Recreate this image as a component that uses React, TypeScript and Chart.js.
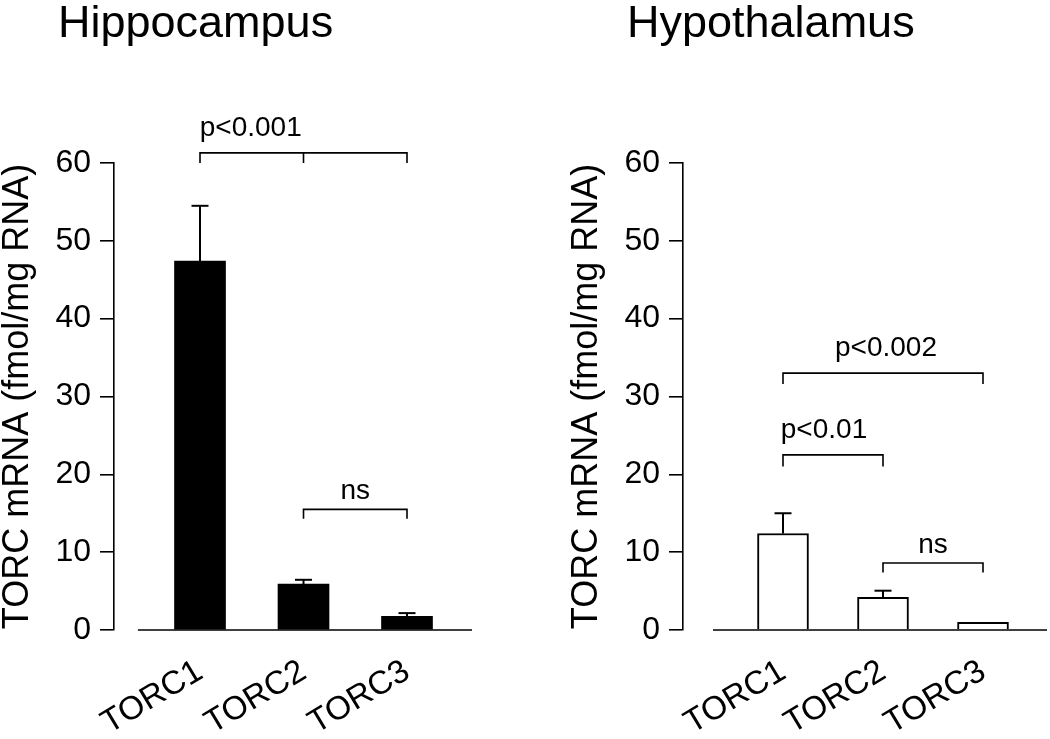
import React, { useEffect, useRef } from "react";
import { Chart, registerables } from "chart.js";

Chart.register(...registerables);

// ---- data ----
const CATEGORIES = ["TORC1", "TORC2", "TORC3"];
const Y_TICKS = [0, 10, 20, 30, 40, 50, 60];
const Y_TITLE = "TORC mRNA (fmol/mg RNA)";

const HIPPO_TITLE = "Hippocampus";
const HIPPO_MEAN = [47.4, 5.9, 1.75];
const HIPPO_SEM = [7.1, 0.55, 0.42];
const HIPPO_BRACKETS = [
  { from: 1, to: 3, mids: [2], level: 61.3, tip: 60.0, label: "p<0.001", labelAt: 1.49 },
  { from: 2, to: 3, mids: [], level: 15.5, tip: 14.3, label: "ns", labelAt: 2.5 },
];

const HYPO_TITLE = "Hypothalamus";
const HYPO_MEAN = [12.4, 4.2, 1.0];
const HYPO_SEM = [2.6, 0.85, 0];
const HYPO_BRACKETS = [
  { from: 1, to: 3, mids: [], level: 33.0, tip: 31.6, label: "p<0.002", labelAt: 2.03 },
  { from: 1, to: 2, mids: [], level: 22.5, tip: 21.0, label: "p<0.01", labelAt: 1.41 },
  { from: 2, to: 3, mids: [], level: 8.6, tip: 7.4, label: "ns", labelAt: 2.5 },
];

// ---- styles ----
const FONT = '"Liberation Sans", Arial, Helvetica, sans-serif';
const INK = "#000";
const CANVAS_H = 739;

type PanelCfg = {
  title: string;
  mean: number[];
  sem: number[];
  brackets: typeof HIPPO_BRACKETS;
  fill: string;
  borderWidth: number;
  barThickness: number;
  left: number;
  width: number;
  padLeft: number;
  padRight: number;
  yWidth: number;
  xMin: number;
  xMax: number;
  axisStart: number;
  labelShift: number[];
};

const PANELS: PanelCfg[] = [
  {
    title: HIPPO_TITLE, mean: HIPPO_MEAN, sem: HIPPO_SEM, brackets: HIPPO_BRACKETS,
    fill: "#000", borderWidth: 0, barThickness: 51,
    left: 0, width: 560, padLeft: 0, padRight: 88, yWidth: 114,
    xMin: 0.169, xMax: 3.628, axisStart: 0.4, labelShift: [16, 2, 2],
  },
  {
    title: HYPO_TITLE, mean: HYPO_MEAN, sem: HYPO_SEM, brackets: HYPO_BRACKETS,
    fill: "#fff", borderWidth: 2, barThickness: 51,
    left: 560, width: 490, padLeft: 9, padRight: 3, yWidth: 114,
    xMin: 0.0, xMax: 3.64, axisStart: 0.3, labelShift: [1, 1, -2],
  },
];

function overlay(cfg: PanelCfg) {
  return {
    id: "overlay",
    afterDatasetsDraw(chart: any) {
      const { ctx, chartArea } = chart;
      const x = chart.scales.x;
      const y = chart.scales.y;
      const line = (x1: number, y1: number, x2: number, y2: number) => {
        ctx.beginPath();
        ctx.moveTo(x1, y1);
        ctx.lineTo(x2, y2);
        ctx.stroke();
      };
      ctx.save();
      ctx.strokeStyle = INK;
      ctx.fillStyle = INK;
      ctx.lineCap = "butt";

      // detached x axis line
      ctx.lineWidth = 1.6;
      const y0 = y.getPixelForValue(0);
      line(x.getPixelForValue(cfg.axisStart), y0, chartArea.right, y0);

      // error bars (upper only)
      ctx.lineWidth = 2;
      cfg.mean.forEach((m, i) => {
        const e = cfg.sem[i];
        if (!e) return;
        const px = x.getPixelForValue(i + 1);
        const yTop = y.getPixelForValue(m + e);
        line(px, y.getPixelForValue(m), px, yTop);
        line(px - 8.5, yTop, px + 8.5, yTop);
      });

      // significance brackets
      ctx.lineWidth = 1.6;
      ctx.font = `28px ${FONT}`;
      ctx.textAlign = "center";
      ctx.textBaseline = "alphabetic";
      cfg.brackets.forEach((b) => {
        const yl = y.getPixelForValue(b.level);
        const yt = y.getPixelForValue(b.tip);
        const xa = x.getPixelForValue(b.from);
        const xb = x.getPixelForValue(b.to);
        ctx.beginPath();
        ctx.moveTo(xa, yt);
        ctx.lineTo(xa, yl);
        ctx.lineTo(xb, yl);
        ctx.lineTo(xb, yt);
        ctx.stroke();
        b.mids.forEach((mv) => {
          const xm = x.getPixelForValue(mv);
          line(xm, yl, xm, yt);
        });
        const gap = b.label.startsWith("p") ? 17 : 10;
        ctx.fillText(b.label, x.getPixelForValue(b.labelAt), yl - gap);
      });

      // panel title
      ctx.font = `45px ${FONT}`;
      ctx.textAlign = "left";
      ctx.fillText(cfg.title, chartArea.left - 56, 37);
      ctx.restore();
    },
  };
}

function Panel({ cfg }: { cfg: PanelCfg }) {
  const ref = useRef<HTMLCanvasElement>(null);
  useEffect(() => {
    const chart = new Chart(ref.current as HTMLCanvasElement, {
      type: "bar",
      data: {
        datasets: [
          {
            data: cfg.mean.map((v, i) => ({ x: i + 1, y: v })),
            backgroundColor: cfg.fill,
            borderColor: INK,
            borderWidth: cfg.borderWidth,
            barThickness: cfg.barThickness,
          } as any,
        ],
      },
      options: {
        responsive: false,
        animation: false,
        devicePixelRatio: 1,
        layout: { padding: { top: 163, right: cfg.padRight, bottom: 0, left: cfg.padLeft } },
        plugins: {
          legend: { display: false },
          tooltip: { enabled: false },
          title: { display: false },
        },
        scales: {
          x: {
            type: "linear",
            offset: false,
            min: cfg.xMin,
            max: cfg.xMax,
            grid: { display: false, drawTicks: false, offset: false },
            border: { display: false },
            afterBuildTicks: (s: any) => {
              s.ticks = CATEGORIES.map((_, i) => ({ value: i + 1 }));
            },
            afterFit: (s: any) => {
              s.height = CANVAS_H - 630;
              s.paddingLeft = 0;
              s.paddingRight = 0;
            },
            ticks: {
              autoSkip: false,
              minRotation: 31,
              maxRotation: 31,
              padding: 22,
              labelOffset: (c: any) => cfg.labelShift[c.index] ?? 0,
              color: INK,
              font: { family: FONT, size: 33 },
              callback: (v: any) => CATEGORIES[Math.round(v) - 1] ?? "",
            },
          },
          y: {
            min: 0,
            max: 60,
            afterBuildTicks: (s: any) => {
              s.ticks = Y_TICKS.map((v) => ({ value: v }));
            },
            afterFit: (s: any) => {
              s.width = cfg.yWidth;
              s.paddingTop = 0;
              s.paddingBottom = 0;
            },
            ticks: { padding: 9, color: INK, font: { family: FONT, size: 32 } },
            grid: { drawOnChartArea: false, drawTicks: true, tickLength: 14, color: INK, lineWidth: 1.6 },
            border: { display: true, color: INK, width: 1.6 },
            title: {
              display: true,
              text: Y_TITLE,
              color: INK,
              font: { family: FONT, size: 36, lineHeight: 1 },
              padding: 0,
            },
          },
        },
      } as any,
      plugins: [overlay(cfg)],
    });
    return () => chart.destroy();
  }, [cfg]);
  return (
    <canvas
      ref={ref}
      width={cfg.width}
      height={CANVAS_H}
      style={{ position: "absolute", left: cfg.left, top: 0, width: cfg.width, height: CANVAS_H }}
    />
  );
}

export default function App() {
  return (
    <div style={{ position: "absolute", left: 0, top: 0, width: 1050, height: CANVAS_H, background: "#fff" }}>
      {PANELS.map((p) => (
        <Panel key={p.title} cfg={p} />
      ))}
    </div>
  );
}
